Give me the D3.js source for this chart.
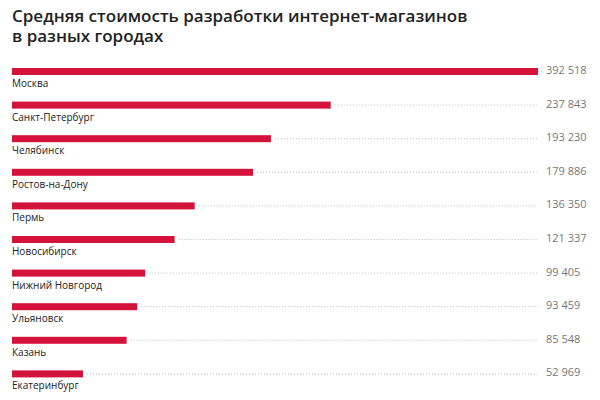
<!DOCTYPE html>
<html>
<head>
<meta charset="utf-8">
<script src="https://cdn.jsdelivr.net/npm/d3@7"></script>
<style>
  body { margin: 0; background: #fff; }
  .title { font-family: "Open Sans", sans-serif; font-weight: 600; font-size: 17px; fill: #222; }
  .city { font-family: "Open Sans", sans-serif; font-size: 10px; fill: #222; }
  .value { font-family: "Open Sans", sans-serif; font-size: 11px; fill: #777; }
</style>
</head>
<body>
<svg id="chart" width="600" height="400"></svg>
<script>
var titleLines = ["Средняя стоимость разработки интернет-магазинов", "в разных городах"];
var cities = ["Москва", "Санкт-Петербург", "Челябинск", "Ростов-на-Дону", "Пермь",
  "Новосибирск", "Нижний Новгород", "Ульяновск", "Казань", "Екатеринбург"];
var costs = [392518, 237843, 193230, 179886, 136350, 121337, 99405, 93459, 85548, 52969];

var svg = d3.select("#chart");
var left = 12, right = 538;

svg.selectAll(".title").data(titleLines).enter().append("text")
  .attr("class", "title")
  .attr("x", left)
  .attr("y", function(d, i) { return 22 + i * 20; })
  .text(function(d) { return d; });

var x = d3.scaleLinear().domain([0, d3.max(costs)]).range([left, right]);
var y = d3.scaleBand().domain(cities).range([54, 390]).paddingInner(0);

// thousands separated by a space
var fmt = function(v) { return d3.format(",")(v).replace(/,/g, " "); };

var rows = svg.selectAll(".row").data(cities).enter().append("g")
  .attr("class", "row")
  .attr("transform", function(d) { return "translate(0," + y(d) + ")"; });

// dotted guide from the end of each bar to the max
rows.append("line")
  .attr("x1", function(d, i) { return x(costs[i]) + 4; })
  .attr("x2", right)
  .attr("y1", 17.5).attr("y2", 17.5)
  .attr("stroke", "#bbb")
  .attr("stroke-width", 1)
  .attr("stroke-dasharray", "1,2");

rows.append("rect")
  .attr("x", left)
  .attr("y", 14)
  .attr("width", function(d, i) { return x(costs[i]) - left; })
  .attr("height", 7)
  .attr("fill", "#d5123a");

rows.append("text")
  .attr("class", "city")
  .attr("x", left)
  .attr("y", 33)
  .text(function(d) { return d; });

rows.append("text")
  .attr("class", "value")
  .attr("x", 546)
  .attr("y", 20)
  .text(function(d, i) { return fmt(costs[i]); });
</script>
</body>
</html>
